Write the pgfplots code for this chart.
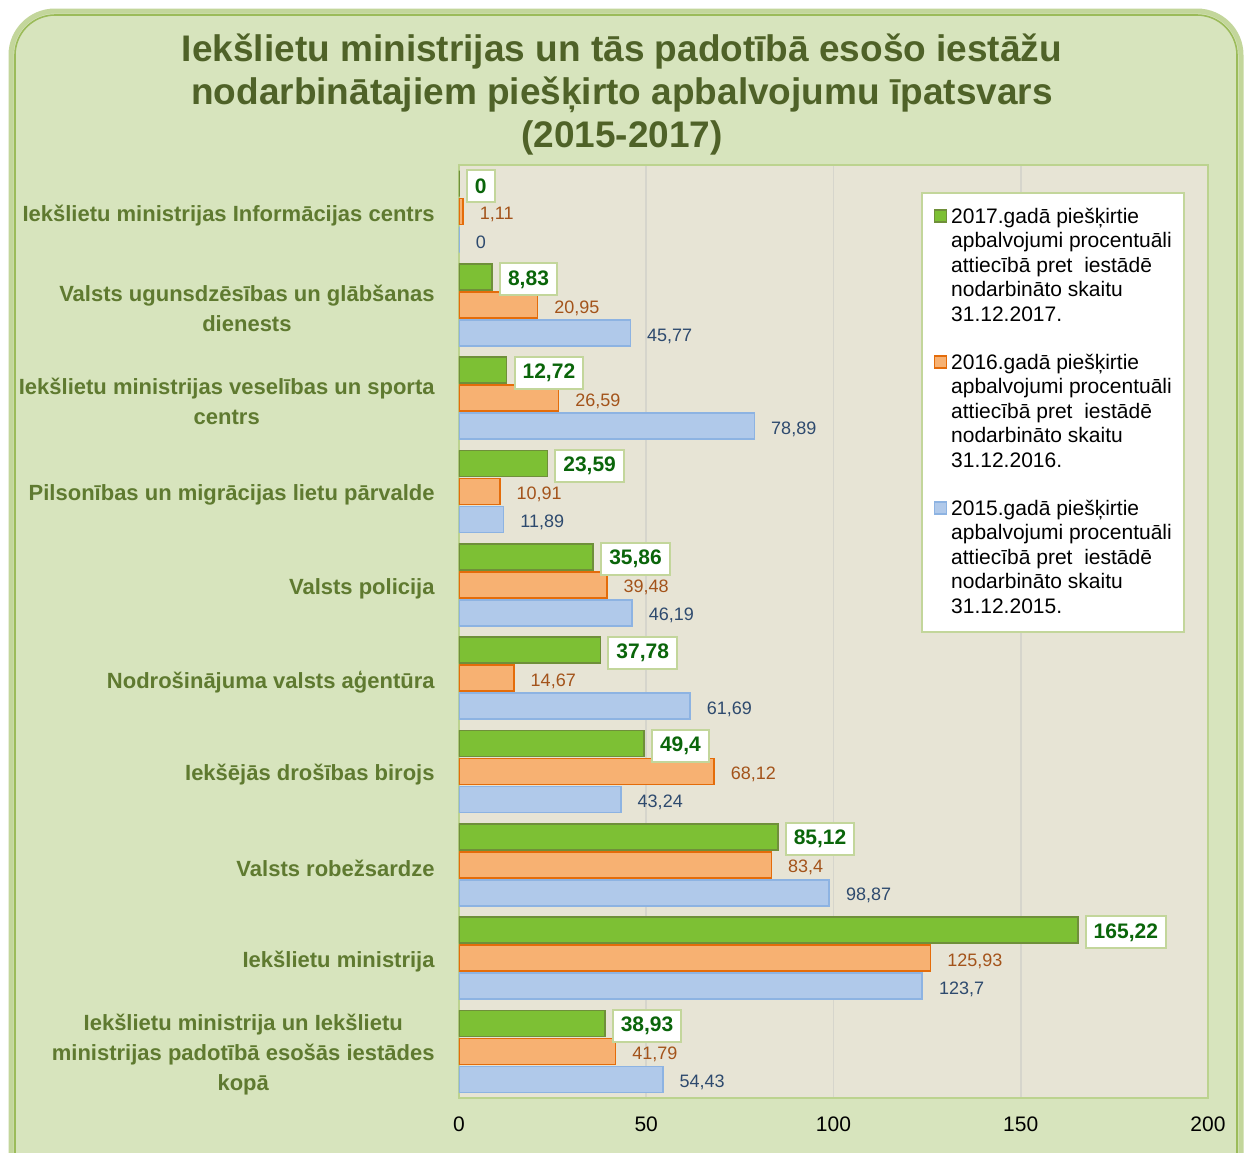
\documentclass[border=0pt]{standalone}
\usepackage{fontspec}
\setmainfont{Liberation Sans}
\usepackage{pgfplots}
\pgfplotsset{compat=1.18}
\definecolor{bgc}{HTML}{D7E4BD}
\definecolor{frameout}{HTML}{C3D69B}
\definecolor{framein}{HTML}{9BBB59}
\definecolor{plotbg}{HTML}{E7E4D5}
\definecolor{gridc}{HTML}{D6D5CC}
\definecolor{plotframe}{HTML}{BCD38F}
\definecolor{titlec}{HTML}{4F6228}
\definecolor{catc}{HTML}{5F7A30}
\definecolor{gfill}{HTML}{7DC034}
\definecolor{gedge}{HTML}{6F8F3A}
\definecolor{ofill}{HTML}{F7B172}
\definecolor{oedge}{HTML}{E46C0A}
\definecolor{bfill}{HTML}{B0C9EA}
\definecolor{bedge}{HTML}{8DB3E2}
\definecolor{gtext}{HTML}{0A650A}
\definecolor{otext}{HTML}{A3531A}
\definecolor{btext}{HTML}{2E4A6E}
\definecolor{lblbox}{HTML}{C3D69B}
\pgfplotsset{/pgf/number format/.cd, use comma, 1000 sep={}, assume math mode=true}
\newcommand{\legsq}[2]{\tikz[baseline=-0.6pt]\draw[fill=#1,draw=#2,line width=0.6pt] (0,0) rectangle (6pt,6pt);}
\begin{document}
\begin{tikzpicture}
\path[use as bounding box] (0,0) rectangle (625pt,-576.5pt);
\begin{scope}
\clip (0,0) rectangle (625pt,-576.5pt);
\fill[white] (0,0) rectangle (625pt,-576.5pt);
\draw[draw=frameout, line width=2.5pt, fill=bgc, rounded corners=22pt] (5.5pt,-5.5pt) rectangle (620.5pt,-600pt);
\draw[draw=framein, line width=0.8pt, rounded corners=20pt] (7.5pt,-7.5pt) rectangle (618.5pt,-598pt);
\end{scope}
\node[anchor=base, font=\fontsize{18.5}{21.5}\selectfont\bfseries, text=titlec] at (311pt,-30.5pt) {Iekšlietu ministrijas un tās padotībā esošo iestāžu};
\node[anchor=base, font=\fontsize{18.5}{21.5}\selectfont\bfseries, text=titlec] at (311pt,-52pt) {nodarbinātajiem piešķirto apbalvojumu īpatsvars};
\node[anchor=base, font=\fontsize{18.5}{21.5}\selectfont\bfseries, text=titlec] at (311pt,-73.5pt) {(2015-2017)};
\begin{axis}[
  at={(229.5pt,-549pt)}, anchor=south west,
  scale only axis, width=374.5pt, height=466.5pt,
  xbar,
  xmin=0, xmax=200, ymin=-0.5, ymax=9.5, y dir=reverse,
  xtick={0,50,100,150,200},
  ytick={0,1,2,3,4,5,6,7,8,9},
  yticklabels={
    Iekšlietu ministrijas Informācijas centrs,
    {Valsts ugunsdzēsības un glābšanas\\dienests},
    {Iekšlietu ministrijas veselības un sporta\\centrs},
    Pilsonības un migrācijas lietu pārvalde,
    Valsts policija,
    Nodrošinājuma valsts aģentūra,
    Iekšējās drošības birojs,
    Valsts robežsardze,
    Iekšlietu ministrija,
    {Iekšlietu ministrija un Iekšlietu\\ministrijas padotībā esošās iestādes\\kopā}},
  yticklabel style={font=\fontsize{11}{15}\selectfont\bfseries, text=catc, align=center, inner sep=0pt, xshift=-12pt, yshift=-1.8pt},
  xticklabel style={font=\fontsize{10.5}{12}\selectfont, text=black, yshift=-6pt},
  major tick length=0pt,
  xmajorgrids, grid style={draw=gridc, line width=0.8pt},
  axis background/.style={fill=plotbg},
  axis line style={draw=plotframe, line width=1.2pt},
  bar width=0.279,
]
\addplot[fill=gfill, draw=gedge, line width=0.8pt, bar shift=-0.3,
  nodes near coords,
  every node near coord/.style={anchor=west, xshift=3.5pt, yshift=12.8pt, fill=white, draw=lblbox, line width=1pt, text=gtext,
    font=\fontsize{10.5}{12}\selectfont\bfseries, inner xsep=4pt, inner ysep=0pt, minimum height=16pt}]
  coordinates {(0,0) (8.83,1) (12.72,2) (23.59,3) (35.86,4) (37.78,5) (49.4,6) (85.12,7) (165.22,8) (38.93,9)};
\addplot[fill=ofill, draw=oedge, line width=0.8pt, bar shift=0,
  nodes near coords,
  every node near coord/.style={anchor=west, xshift=8pt, yshift=-1.5pt, inner sep=0pt, text=otext, font=\fontsize{9}{11}\selectfont}]
  coordinates {(1.11,0) (20.95,1) (26.59,2) (10.91,3) (39.48,4) (14.67,5) (68.12,6) (83.4,7) (125.93,8) (41.79,9)};
\addplot[fill=bfill, draw=bedge, line width=0.8pt, bar shift=0.3,
  nodes near coords,
  every node near coord/.style={anchor=west, xshift=8pt, yshift=-15.5pt, inner sep=0pt, text=btext, font=\fontsize{9}{11}\selectfont}]
  coordinates {(0,0) (45.77,1) (78.89,2) (11.89,3) (46.19,4) (61.69,5) (43.24,6) (98.87,7) (123.7,8) (54.43,9)};
\end{axis}
\node[anchor=north west, draw=lblbox, line width=1pt, fill=white, inner xsep=6pt, inner ysep=5.5pt, font=\fontsize{10.5}{12.25}\selectfont] at (460.5pt,-96pt) {%
\begin{tabular}{@{}l@{\hspace{2pt}}l@{}}
\rule{0pt}{9.6pt}\legsq{gfill}{gedge} & 2017.gadā piešķirtie\\
 & apbalvojumi procentuāli\\
 & attiecībā pret\ \ iestādē\\
 & nodarbināto skaitu\\
 & 31.12.2017.\\[11.75pt]
\legsq{ofill}{oedge} & 2016.gadā piešķirtie\\
 & apbalvojumi procentuāli\\
 & attiecībā pret\ \ iestādē\\
 & nodarbināto skaitu\\
 & 31.12.2016.\\[11.75pt]
\legsq{bfill}{bedge} & 2015.gadā piešķirtie\\
 & apbalvojumi procentuāli\\
 & attiecībā pret\ \ iestādē\\
 & nodarbināto skaitu\\
 & 31.12.2015.
\end{tabular}};
\end{tikzpicture}
\end{document}
